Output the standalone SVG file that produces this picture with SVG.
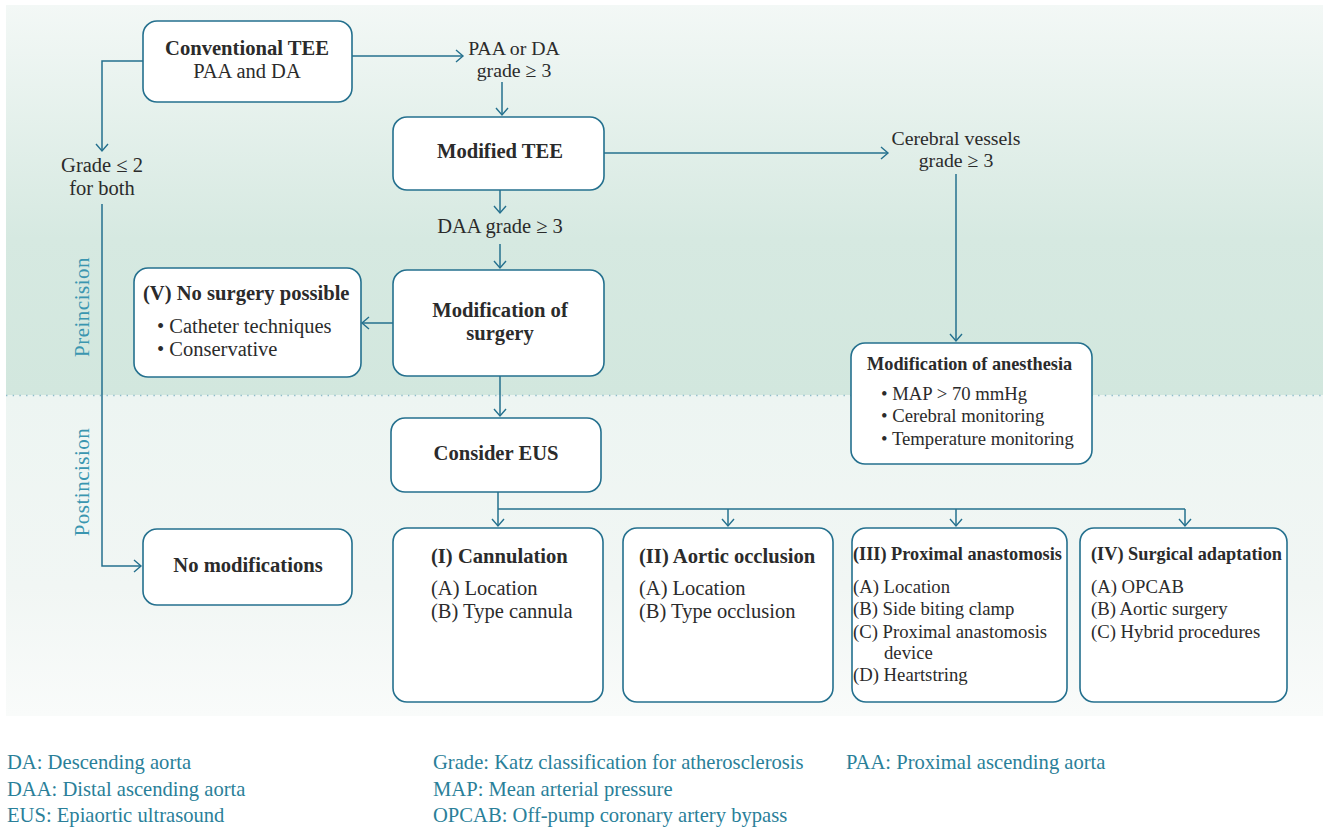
<svg xmlns="http://www.w3.org/2000/svg" width="1323" height="829" viewBox="0 0 1323 829">
<defs>
<linearGradient id="gUp" x1="0" y1="0" x2="0" y2="1">
<stop offset="0" stop-color="#f3f8f6"/>
<stop offset="0.6" stop-color="#d6e9e1"/>
<stop offset="1" stop-color="#d2e7de"/>
</linearGradient>
<linearGradient id="gLo" x1="0" y1="0" x2="0" y2="1">
<stop offset="0" stop-color="#edf5f2"/>
<stop offset="0.6" stop-color="#f1f6f4"/>
<stop offset="1" stop-color="#f9fbfa"/>
</linearGradient>
<marker id="ah" markerUnits="userSpaceOnUse" markerWidth="12" markerHeight="14" viewBox="0 0 12 14" refX="9" refY="7" orient="auto">
<path d="M2,1 L9,7 L2,13" fill="none" stroke="#24708e" stroke-width="1.4"/>
</marker>
<style>
.box{fill:#ffffff;stroke:#24708e;stroke-width:1.6}
.c{fill:none;stroke:#24708e;stroke-width:1.5}
.t{font-family:"Liberation Serif","Times New Roman",serif;fill:#2b2b2b;font-size:20.5px}
.b{font-weight:bold;font-size:20.6px}
.s{font-size:18.7px}
.sb{font-weight:bold;font-size:18.3px}
.n{font-size:19.8px}
.lg{font-family:"Liberation Serif","Times New Roman",serif;fill:#2a7f99;font-size:20.6px}
.ph{font-family:"Liberation Serif","Times New Roman",serif;fill:#3a96b0;font-size:21px;letter-spacing:0.5px}
.m{text-anchor:middle}
</style>
</defs>

<g id="background">
<rect x="6" y="5" width="1317" height="390" fill="url(#gUp)"/>
<rect x="6" y="395" width="1317" height="321" fill="url(#gLo)"/>
<line x1="6" y1="395.5" x2="1323" y2="395.5" stroke="#8fbccb" stroke-width="1.4" stroke-dasharray="1.4 5.3"/>
<text class="ph m" transform="translate(89,307) rotate(-90)">Preincision</text>
<text class="ph m" transform="translate(89,482) rotate(-90)">Postincision</text>
</g>

<g id="connectors">
<path class="c" d="M143,61 H102 V151" marker-end="url(#ah)"/>
<path class="c" d="M102,204 V566 H141" marker-end="url(#ah)"/>
<path class="c" d="M352,56 H463" marker-end="url(#ah)"/>
<path class="c" d="M502,82 V115" marker-end="url(#ah)"/>
<path class="c" d="M500,190 V213" marker-end="url(#ah)"/>
<path class="c" d="M500,244 V268" marker-end="url(#ah)"/>
<path class="c" d="M393,323 H362" marker-end="url(#ah)"/>
<path class="c" d="M500,376 V416" marker-end="url(#ah)"/>
<path class="c" d="M498,492 V526" marker-end="url(#ah)"/>
<path class="c" d="M498,509 H1185"/>
<path class="c" d="M728,509 V526" marker-end="url(#ah)"/>
<path class="c" d="M956,509 V526" marker-end="url(#ah)"/>
<path class="c" d="M1185,509 V526" marker-end="url(#ah)"/>
<path class="c" d="M604,153 H888" marker-end="url(#ah)"/>
<path class="c" d="M956,174 V341" marker-end="url(#ah)"/>
</g>

<g id="labels">
<text class="t n m" x="514" y="55">PAA or DA</text>
<text class="t n m" x="514" y="77">grade ≥ 3</text>
<text class="t m" x="102" y="172">Grade ≤ 2</text>
<text class="t m" x="102" y="195">for both</text>
<text class="t m" x="500" y="233">DAA grade ≥ 3</text>
<text class="t n m" x="956" y="145">Cerebral vessels</text>
<text class="t n m" x="956" y="167">grade ≥ 3</text>
</g>

<g id="conventional-tee">
<rect class="box" x="143" y="21" width="209" height="81" rx="14"/>
<text class="t b m" x="247" y="55">Conventional TEE</text>
<text class="t m" x="247" y="78">PAA and DA</text>
</g>

<g id="modified-tee">
<rect class="box" x="393" y="117" width="211" height="73" rx="14"/>
<text class="t b m" x="500" y="158">Modified TEE</text>
</g>

<g id="modification-surgery">
<rect class="box" x="393" y="270" width="211" height="106" rx="14"/>
<text class="t b m" x="500" y="317">Modification of</text>
<text class="t b m" x="500" y="340">surgery</text>
</g>

<g id="no-surgery">
<rect class="box" x="134" y="268" width="227" height="109" rx="14"/>
<text class="t b" x="143" y="300">(V) No surgery possible</text>
<text class="t" x="157" y="333">• Catheter techniques</text>
<text class="t" x="157" y="356">• Conservative</text>
</g>

<g id="modification-anesthesia">
<rect class="box" x="851" y="343" width="241" height="121" rx="14"/>
<text class="t sb" x="867" y="370">Modification of anesthesia</text>
<text class="t s" x="881" y="400">• MAP &gt; 70 mmHg</text>
<text class="t s" x="881" y="422">• Cerebral monitoring</text>
<text class="t s" x="881" y="445">• Temperature monitoring</text>
</g>

<g id="consider-eus">
<rect class="box" x="391" y="418" width="210" height="74" rx="14"/>
<text class="t b m" x="496" y="460">Consider EUS</text>
</g>

<g id="no-modifications">
<rect class="box" x="143" y="529" width="209" height="76" rx="14"/>
<text class="t b m" x="248" y="572">No modifications</text>
</g>

<g id="cannulation">
<rect class="box" x="393" y="528" width="210" height="174" rx="14"/>
<text class="t b" x="431" y="563">(I) Cannulation</text>
<text class="t" x="431" y="595">(A) Location</text>
<text class="t" x="431" y="618">(B) Type cannula</text>
</g>

<g id="aortic-occlusion">
<rect class="box" x="623" y="528" width="210" height="174" rx="14"/>
<text class="t b" x="639" y="563">(II) Aortic occlusion</text>
<text class="t" x="639" y="595">(A) Location</text>
<text class="t" x="639" y="618">(B) Type occlusion</text>
</g>

<g id="proximal-anastomosis">
<rect class="box" x="852" y="528" width="215" height="174" rx="14"/>
<text class="t sb" x="853" y="560">(III) Proximal anastomosis</text>
<text class="t s" x="853" y="593">(A) Location</text>
<text class="t s" x="853" y="615">(B) Side biting clamp</text>
<text class="t s" x="853" y="638">(C) Proximal anastomosis</text>
<text class="t s" x="884" y="659">device</text>
<text class="t s" x="853" y="681">(D) Heartstring</text>
</g>

<g id="surgical-adaptation">
<rect class="box" x="1080" y="528" width="207" height="174" rx="14"/>
<text class="t sb" x="1091" y="560">(IV) Surgical adaptation</text>
<text class="t s" x="1091" y="593">(A) OPCAB</text>
<text class="t s" x="1091" y="615">(B) Aortic surgery</text>
<text class="t s" x="1091" y="638">(C) Hybrid procedures</text>
</g>

<g id="legend">
<text class="lg" x="7" y="769">DA: Descending aorta</text>
<text class="lg" x="7" y="796">DAA: Distal ascending aorta</text>
<text class="lg" x="7" y="822">EUS: Epiaortic ultrasound</text>
<text class="lg" x="433" y="769">Grade: Katz classification for atherosclerosis</text>
<text class="lg" x="433" y="796">MAP: Mean arterial pressure</text>
<text class="lg" x="433" y="822">OPCAB: Off-pump coronary artery bypass</text>
<text class="lg" x="846" y="769">PAA: Proximal ascending aorta</text>
</g>
</svg>
